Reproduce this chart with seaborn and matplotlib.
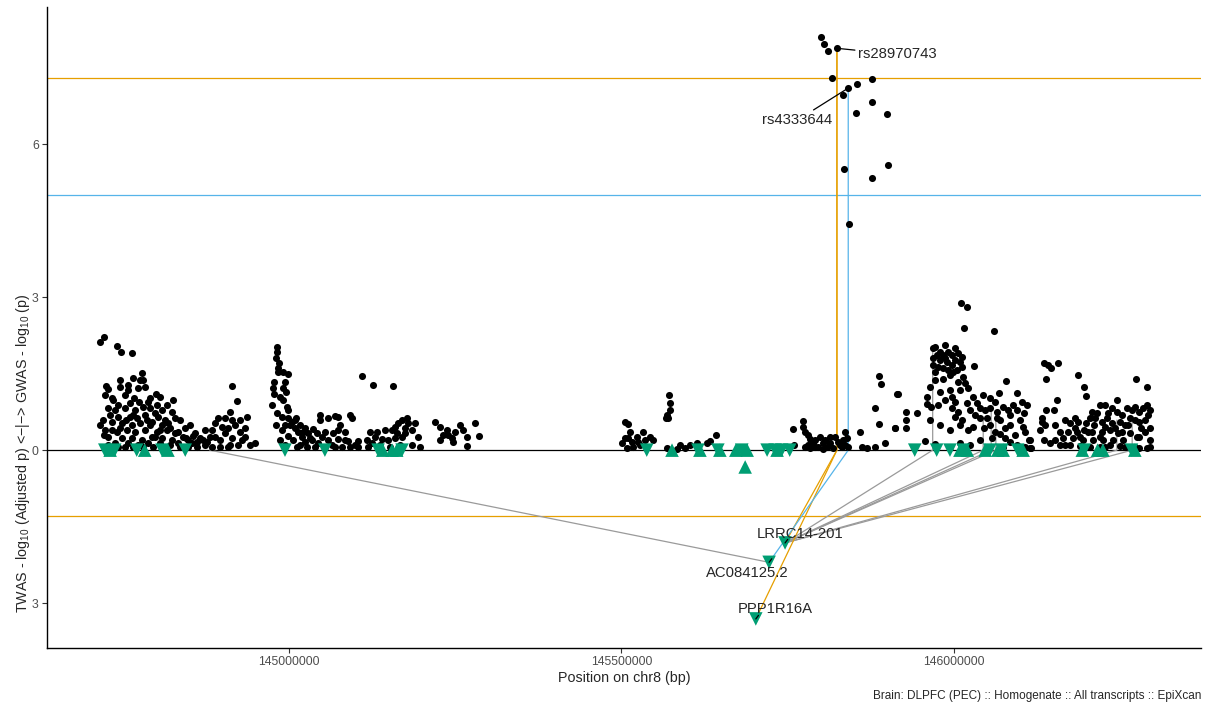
import matplotlib
matplotlib.use('Agg')
import matplotlib.pyplot as plt
from matplotlib import transforms
import numpy as np
import pandas as pd
import seaborn as sns

a_pos = [144.716, 144.722, 144.741, 144.747, 144.764, 144.779, 144.780, 144.776, 144.783, 144.725,
         144.728, 144.746, 144.758, 144.758, 144.773, 144.800, 144.826, 144.914, 144.922, 144.937,
         144.774, 144.761, 144.728, 144.738, 144.753, 144.768, 144.780, 144.802, 144.809, 144.798,
         144.731, 144.743, 144.761, 144.771, 144.803, 144.828, 144.734, 144.749, 144.764, 144.776,
         144.794, 144.809, 144.818, 144.893, 144.904, 144.914, 144.889, 144.899, 144.919, 144.908,
         144.723, 144.741, 144.756, 144.768, 144.783, 144.802, 144.817, 144.828, 144.841, 144.884,
         144.914, 144.929, 144.941, 144.728, 144.749, 144.764, 144.779, 144.794, 144.809, 144.824,
         144.848, 144.862, 144.871, 144.881, 144.738, 144.758, 144.788, 144.806, 144.833, 144.854,
         144.874, 144.773, 144.720, 144.735, 144.753, 144.791, 144.786, 144.844, 144.859, 144.896,
         144.884, 144.836, 144.813, 144.926, 144.949,
         144.716, 144.722, 144.734, 144.746, 144.755, 144.765, 144.783, 144.791, 144.799, 144.806,
         144.814, 144.821, 144.833, 144.845, 144.856, 144.866, 144.877, 144.889, 144.904, 144.911,
         144.923, 144.934, 144.728, 144.743, 144.753, 144.765, 144.780, 144.796, 144.821, 144.848,
         144.862, 144.896, 144.908, 144.734, 144.743, 144.767, 144.788, 144.806, 144.817, 144.746,
         144.765, 144.723, 144.791, 144.824, 144.836, 144.851, 144.874, 144.934, 144.926, 144.911]
a_logp = [2.12, 2.22, 2.04, 1.92, 1.90, 1.51, 1.37, 1.37, 1.24, 1.25,
          1.20, 1.24, 1.27, 1.18, 1.22, 1.10, 0.98, 1.25, 0.96, 0.65,
          0.94, 0.92, 0.82, 0.78, 0.82, 0.78, 0.84, 0.88, 0.78, 0.73,
          0.69, 0.65, 0.65, 0.63, 0.65, 0.63, 0.55, 0.53, 0.49, 0.53,
          0.55, 0.49, 0.53, 0.63, 0.63, 0.59, 0.53, 0.45, 0.49, 0.43,
          0.39, 0.35, 0.39, 0.35, 0.39, 0.35, 0.39, 0.33, 0.25, 0.39,
          0.24, 0.20, 0.10, 0.25, 0.24, 0.24, 0.20, 0.25, 0.24, 0.20,
          0.20, 0.16, 0.20, 0.25, 0.14, 0.14, 0.14, 0.14, 0.14, 0.14,
          0.10, 0.10, 0.59, 0.98, 1.08, 1.02, 0.59, 0.43, 0.33, 0.20,
          0.06, 0.06, 0.06, 0.35, 0.14,
          0.49, 0.29, 0.39, 0.43, 0.59, 0.69, 0.69, 0.49, 0.25, 0.39,
          0.59, 0.43, 0.35, 0.24, 0.27, 0.24, 0.16, 0.25, 0.33, 0.10,
          0.10, 0.25, 0.10, 0.06, 0.06, 0.06, 0.06, 0.06, 0.10, 0.06,
          0.06, 0.06, 0.06, 1.02, 0.88, 1.02, 0.94, 1.04, 0.88, 1.37,
          1.41, 1.08, 0.82, 0.75, 0.59, 0.49, 0.39, 0.43, 0.59, 0.75]

b_pos = [144.982, 144.982, 144.980, 144.985, 144.983, 144.983, 144.998, 144.977, 144.994, 144.991,
         144.995, 144.977, 144.986, 144.997, 144.998, 144.982, 144.989, 144.998, 145.005, 145.002,
         145.009, 145.014, 145.024, 145.036, 145.042, 145.020, 145.032, 145.050, 145.059, 145.074,
         145.089, 145.099, 145.024, 145.044, 145.065, 145.080, 145.012, 145.047, 145.047, 145.059,
         145.069, 145.074, 145.092, 145.095, 145.084, 145.074, 145.066, 145.110, 145.126, 145.156,
         145.117, 145.129, 145.125, 145.140, 145.132, 145.144, 145.155, 145.159, 145.164, 145.170,
         145.177, 145.179, 145.189, 145.185, 145.174, 145.170, 145.159, 145.149, 145.185, 145.119,
         145.220, 145.227, 145.238, 145.239, 145.232, 145.245, 145.250, 145.257, 145.262, 145.268,
         145.280, 145.286, 145.268, 145.247, 145.227, 144.991, 145.009, 145.017, 145.029, 144.994,
         145.104, 145.167, 145.152,
         144.974, 144.980, 144.989, 144.998, 145.006, 145.017, 145.027, 145.039, 145.054, 145.069,
         145.092, 145.104, 144.986, 144.994, 145.011, 145.021, 145.035, 145.054, 145.077, 145.084,
         145.122, 145.137, 145.162, 145.174, 145.194, 145.197, 144.991, 144.976]
b_logp = [2.02, 1.92, 1.80, 1.71, 1.61, 1.53, 1.49, 1.33, 1.33, 1.22,
          1.14, 1.10, 1.04, 0.84, 0.78, 0.73, 0.65, 0.63, 0.55, 0.49,
          0.43, 0.35, 0.43, 0.41, 0.33, 0.25, 0.24, 0.25, 0.20, 0.22,
          0.18, 0.10, 0.16, 0.14, 0.10, 0.06, 0.06, 0.69, 0.59, 0.63,
          0.67, 0.65, 0.69, 0.63, 0.35, 0.39, 0.33, 1.45, 1.27, 1.25,
          0.20, 0.25, 0.14, 0.22, 0.35, 0.39, 0.39, 0.45, 0.53, 0.59,
          0.63, 0.53, 0.53, 0.39, 0.33, 0.25, 0.24, 0.20, 0.10, 0.06,
          0.55, 0.45, 0.39, 0.29, 0.29, 0.24, 0.35, 0.49, 0.39, 0.25,
          0.53, 0.27, 0.08, 0.16, 0.20, 0.98, 0.59, 0.49, 0.33, 0.10,
          0.18, 0.10, 0.06,
          0.88, 0.49, 0.39, 0.27, 0.20, 0.10, 0.06, 0.06, 0.06, 0.06,
          0.06, 0.06, 0.20, 0.49, 0.63, 0.35, 0.20, 0.35, 0.49, 0.20,
          0.35, 0.10, 0.33, 0.43, 0.25, 0.06, 1.53, 1.22]

c_pos = [145.505, 145.510, 145.505, 145.510, 145.516, 145.523, 145.525, 145.517, 145.532, 145.543,
         145.547, 145.508, 145.571, 145.573, 145.573, 145.568, 145.567, 145.570, 145.568, 145.588,
         145.595, 145.603, 145.614, 145.629, 145.633, 145.642, 145.583, 145.758, 145.773, 145.773,
         145.776, 145.780, 145.783, 145.780, 145.788, 145.795, 145.803, 145.809, 145.813, 145.818,
         145.821, 145.828, 145.833, 145.836, 145.839, 145.840, 145.783, 145.803, 145.862, 145.869,
         145.882, 145.859, 145.882, 145.888, 145.897, 145.911, 145.914, 145.888, 145.891, 145.760,
         145.791, 145.798, 145.806, 145.813, 145.825, 145.831, 145.776, 145.791, 145.836, 145.501,
         145.513, 145.528, 145.535]
c_logp = [0.55, 0.51, 0.24, 0.24, 0.16, 0.25, 0.16, 0.06, 0.35, 0.25,
          0.20, 0.04, 1.08, 0.92, 0.78, 0.69, 0.63, 0.63, 0.04, 0.10,
          0.04, 0.10, 0.14, 0.14, 0.18, 0.29, 0.02, 0.41, 0.57, 0.45,
          0.35, 0.29, 0.22, 0.10, 0.14, 0.06, 0.14, 0.06, 0.14, 0.04,
          0.25, 0.10, 0.20, 0.35, 0.24, 0.06, 0.04, 0.02, 0.06, 0.04,
          0.06, 0.35, 0.82, 0.51, 0.14, 0.43, 1.10, 1.45, 1.29, 0.10,
          0.20, 0.25, 0.20, 0.25, 0.16, 0.06, 0.06, 0.06, 0.10, 0.14,
          0.35, 0.10, 0.20]

peak_pos = [145.800, 145.805, 145.811, 145.824, 145.817, 145.841, 145.833, 145.854,
            145.877, 145.877, 145.853, 145.900, 145.835, 145.877, 145.901, 145.842]
peak_logp = [8.10, 7.96, 7.82, 7.88, 7.29, 7.10, 6.96, 7.18,
             7.27, 6.82, 6.61, 6.59, 5.51, 5.33, 5.59, 4.43]

d_pos = [146.011, 146.020, 146.015, 146.060, 145.916, 145.928, 145.928, 145.944, 145.911, 145.928,
         145.956, 145.968, 145.971, 145.979, 145.983, 145.991, 146.002, 146.006, 146.012, 145.968,
         145.979, 145.989, 146.002, 145.968, 145.976, 145.991, 146.005, 146.012, 146.014, 146.030,
         145.983, 146.078, 146.009, 145.959, 145.959, 145.966, 145.976, 145.986, 145.997, 146.002,
         145.997, 146.006, 146.002, 146.012, 146.020, 146.024, 146.029, 146.035, 146.039, 146.044,
         146.054, 146.062, 146.068, 146.054, 146.065, 146.074, 146.081, 146.089, 146.095, 146.102,
         146.110, 146.105, 146.095, 146.039, 146.050, 146.065, 146.021, 146.029, 146.104, 146.113,
         146.057, 146.069, 146.077, 146.084, 146.095, 146.074, 145.972, 146.114, 146.084, 146.045,
         145.994, 146.017, 145.986, 145.997,
         145.964, 145.979, 145.994, 146.009, 146.032, 146.047, 146.054, 146.069, 146.084, 146.099,
         146.107, 146.092, 146.077, 146.062, 146.039, 146.024, 146.009, 145.994, 146.099, 146.107,
         145.971, 145.994, 146.006, 146.021, 145.979, 145.964, 145.974, 145.986, 145.997, 146.009,
         145.983, 145.998, 145.971]
d_logp = [2.88, 2.80, 2.39, 2.33, 1.10, 0.75, 0.59, 0.73, 0.43, 0.43,
          0.18, 2.00, 2.02, 1.92, 1.86, 1.92, 2.00, 1.90, 1.82, 1.80,
          1.76, 1.73, 1.76, 1.67, 1.63, 1.57, 1.57, 1.63, 1.43, 1.65,
          1.39, 1.35, 1.18, 1.04, 0.90, 0.84, 0.88, 0.98, 1.04, 0.94,
          0.82, 0.75, 0.65, 0.59, 0.92, 0.78, 1.04, 0.92, 0.82, 1.08,
          1.02, 0.94, 1.12, 0.82, 0.75, 0.84, 0.78, 0.88, 1.12, 0.94,
          0.88, 0.73, 0.78, 0.63, 0.63, 0.63, 0.39, 0.45, 0.45, 0.20,
          0.24, 0.31, 0.24, 0.16, 0.10, 0.06, 0.12, 0.04, 0.49, 0.43,
          1.18, 1.31, 2.06, 1.67,
          0.59, 0.49, 0.39, 0.49, 0.69, 0.78, 0.49, 0.59, 0.69, 0.59,
          0.35, 0.29, 0.43, 0.35, 0.20, 0.10, 0.14, 0.06, 0.06, 0.06,
          1.37, 1.47, 1.33, 1.22, 1.14, 1.24, 1.86, 1.80, 1.86, 1.73,
          1.61, 1.53, 1.53]

e_pos = [146.135, 146.141, 146.146, 146.157, 146.139, 146.187, 146.196, 146.199, 146.274, 146.290,
         146.155, 146.245, 146.227, 146.139, 146.151, 146.133, 146.132, 146.207, 146.215, 146.232,
         146.245, 146.260, 146.272, 146.284, 146.290, 146.292, 146.174, 146.186, 146.199, 146.211,
         146.222, 146.237, 146.249, 146.264, 146.279, 146.282, 146.171, 146.185, 146.196, 146.208,
         146.222, 146.234, 146.246, 146.264, 146.164, 146.179, 146.194, 146.209, 146.224, 146.239,
         146.254, 146.275, 146.144, 146.159, 146.174, 146.189, 146.204, 146.220, 146.234, 146.249,
         146.264, 146.279, 146.290, 146.116, 146.114, 146.182, 146.204, 146.257, 146.287, 146.295,
         146.129, 146.136, 146.227,
         146.152, 146.159, 146.167, 146.182, 146.189, 146.202, 146.212, 146.220, 146.230, 146.242,
         146.253, 146.262, 146.272, 146.279, 146.287, 146.295, 146.167, 146.197, 146.227, 146.257,
         146.272, 146.295, 146.152, 146.137, 146.220, 146.238, 146.253, 146.268, 146.279, 146.295]
e_logp = [1.71, 1.67, 1.61, 1.71, 1.39, 1.47, 1.24, 1.06, 1.39, 1.24,
          0.98, 0.98, 0.88, 0.78, 0.78, 0.63, 0.55, 0.75, 0.73, 0.73,
          0.75, 0.82, 0.84, 0.82, 0.88, 0.69, 0.53, 0.55, 0.53, 0.49,
          0.55, 0.53, 0.55, 0.63, 0.55, 0.43, 0.35, 0.35, 0.39, 0.35,
          0.35, 0.39, 0.33, 0.33, 0.24, 0.24, 0.20, 0.20, 0.20, 0.20,
          0.20, 0.25, 0.14, 0.10, 0.10, 0.08, 0.06, 0.06, 0.10, 0.08,
          0.06, 0.04, 0.04, 0.04, 0.20, 0.63, 0.63, 0.49, 0.35, 0.20,
          0.39, 0.20, 0.45,
          0.49, 0.35, 0.59, 0.43, 0.25, 0.35, 0.63, 0.25, 0.63, 0.43,
          0.35, 0.49, 0.59, 0.25, 0.59, 0.43, 0.10, 0.06, 0.06, 0.06,
          0.06, 0.06, 0.20, 0.49, 0.88, 0.82, 0.69, 0.78, 0.75, 0.78]

# TWAS genes: position (Mb) and -log10(adjusted p) plotted downwards, with z direction
gene_down_pos = [144.723, 144.738, 144.771, 144.809, 144.844, 144.994, 145.054, 145.134, 145.170,
                 145.538, 145.615, 145.645, 145.681, 145.719, 145.731, 145.741, 145.753, 145.941,
                 145.974, 145.994, 146.014, 146.054, 146.072, 146.096, 146.196, 146.267]
gene_up_pos = [144.731, 144.783, 144.818, 145.141, 145.155, 145.162, 145.576, 145.618, 145.648,
               145.672, 145.689, 145.734, 146.009, 146.020, 146.047, 146.066, 146.074, 146.104,
               146.193, 146.216, 146.224, 146.272, 145.686]
gene_up_twas = [0] * 22 + [-0.33]

twas_names = ['LRRC14-201', 'AC084125.2', 'PPP1R16A']
twas_pos = [145.746, 145.722, 145.702]
twas_logp = [-1.82, -2.20, -3.31]

# SNP -> gene links (top SNP of each gene)
link_snp_pos = [145.824, 145.824, 145.841, 144.881, 145.968, 146.044, 146.056, 146.063, 146.245, 146.268]
link_snp_logp = [7.88, 7.88, 7.10, 0.08, 2.00, 0.57, 0.82, 0.75, 0.59, 0.65]
link_gene = ['PPP1R16A', 'LRRC14-201', 'AC084125.2', 'AC084125.2', 'LRRC14-201',
             'LRRC14-201', 'LRRC14-201', 'LRRC14-201', 'LRRC14-201', 'LRRC14-201']

GWAS_SIG = -np.log10(5e-8)
GWAS_SUG = 5.0
TWAS_SIG = -np.log10(0.05)
ORANGE = '#E69F00'
BLUE = '#56B4E9'
GREEN = '#009E73'
GREY = '#9a9a9a'

sns.set_style('ticks')
plt.rcParams['font.family'] = ['Liberation Sans', 'DejaVu Sans']
plt.rcParams['mathtext.fontset'] = 'custom'
plt.rcParams['mathtext.rm'] = 'Liberation Sans'
plt.rcParams['mathtext.it'] = 'Liberation Sans:italic'

snps = pd.DataFrame({
    'pos': np.array(a_pos + b_pos + c_pos + peak_pos + d_pos + e_pos) * 1e6,
    'logp': a_logp + b_logp + c_logp + peak_logp + d_logp + e_logp,
})
genes = pd.DataFrame({
    'pos': np.array(gene_down_pos + gene_up_pos + twas_pos) * 1e6,
    'twas': [0] * len(gene_down_pos) + gene_up_twas + twas_logp,
    'dir': ['down'] * len(gene_down_pos) + ['up'] * len(gene_up_pos) + ['down'] * len(twas_pos),
})
twas = pd.DataFrame({'name': twas_names, 'pos': np.array(twas_pos) * 1e6, 'logp': twas_logp})

fig = plt.figure(figsize=(12.09, 7.04), dpi=100)
ax = fig.add_axes([47 / 1209, 1 - 648 / 704, 1154 / 1209, 641 / 704])

ax.axhline(GWAS_SIG, color=ORANGE, lw=0.9, zorder=1)
ax.axhline(GWAS_SUG, color=BLUE, lw=0.9, zorder=1)
ax.axhline(-TWAS_SIG, color=ORANGE, lw=0.9, zorder=1)
ax.axhline(0, color='black', lw=0.9, zorder=1)

# links: SNP down to the axis, then over to the TWAS gene
for sp, sv, g in zip(link_snp_pos, link_snp_logp, link_gene):
    row = twas[twas['name'] == g].iloc[0]
    col = ORANGE if sv >= GWAS_SIG else (BLUE if sv >= GWAS_SUG else GREY)
    ax.plot([sp * 1e6, sp * 1e6, row['pos']], [sv, 0, row['logp']],
            color=col, lw=0.9, zorder=2 if col == GREY else 2.5)

sns.scatterplot(data=snps, x='pos', y='logp', color='black', s=26, linewidth=0,
                ax=ax, zorder=3, legend=False)
sns.scatterplot(data=genes, x='pos', y='twas', style='dir', markers={'up': '^', 'down': 'v'},
                color=GREEN, s=95, linewidth=0, ax=ax, zorder=4, legend=False)

# repel-style labels
lab = dict(fontsize=10.7, zorder=6)
seg = dict(arrowstyle='-', lw=0.9, color='black', shrinkA=0, shrinkB=2)
ax.annotate('rs28970743', xy=(145.824e6, 7.88), xytext=(145.856e6, 7.76),
            ha='left', va='center', arrowprops=seg, **lab)
ax.annotate('rs4333644', xy=(145.841e6, 7.10), xytext=(145.817e6, 6.47),
            ha='right', va='center', arrowprops=seg, **lab)
label_xy = {'LRRC14-201': (145.768e6, -1.65), 'AC084125.2': (145.6895e6, -2.41),
            'PPP1R16A': (145.7305e6, -3.12)}
for _, r in twas.iterrows():
    tx, ty = label_xy[r['name']]
    ax.text(tx, ty, r['name'], ha='center', va='center', **lab)
    ax.plot([r['pos'], r['pos'] + 0.004e6], [r['logp'], r['logp'] + 0.07],
            color='black', lw=0.9, zorder=5)

ax.set_xlim(144.6361e6, 146.3715e6)
ax.set_ylim(-3.88, 8.69)
ax.set_xticks([145.0e6, 145.5e6, 146.0e6])
ax.set_xticklabels(['145000000', '145500000', '146000000'])
ax.set_yticks([-3, 0, 3, 6])
ax.set_yticklabels(['3', '0', '3', '6'])
ax.tick_params(length=3.5, width=0.8, color='#333333', labelcolor='#4D4D4D',
               labelsize=8.8, pad=2.5)
sns.despine(ax=ax)
for s in ['left', 'bottom']:
    ax.spines[s].set_linewidth(1.0)
    ax.spines[s].set_color('black')

ax.set_xlabel('Position on chr8 (bp)', fontsize=10.3)
ax.xaxis.set_label_coords(0.5, -0.036)
ax.set_ylabel('')

# y title, starting near the bottom of the panel as in the original
trans = transforms.blended_transform_factory(ax.transAxes, ax.transData)
ax.text(-0.0173, -3.20, r'TWAS - log$_{10}$ (Adjusted p) <−|−> GWAS - log$_{10}$ (p)',
        rotation=90, rotation_mode='anchor', ha='left', va='baseline', fontsize=10.3,
        transform=trans)

fig.text(1201 / 1209, 1 - 696 / 704,
         'Brain: DLPFC (PEC) :: Homogenate :: All transcripts :: EpiXcan',
         ha='right', va='center', fontsize=8.5)

fig.savefig('out.png', dpi=100)
